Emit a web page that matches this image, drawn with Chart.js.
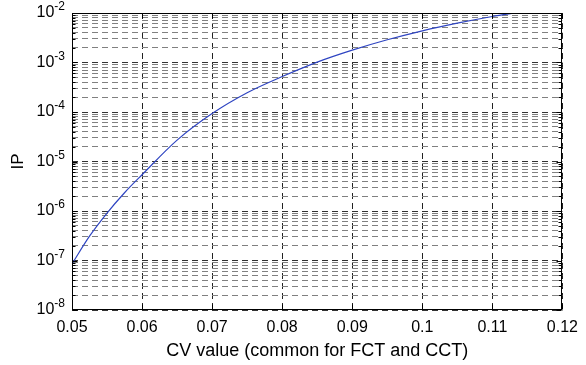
<!DOCTYPE html>
<html>
<head>
<meta charset="utf-8">
<script src="https://cdn.jsdelivr.net/npm/chart.js@4/dist/chart.umd.min.js"></script>
<style>
  html, body { margin: 0; padding: 0; background: #fff; }
  #wrap { width: 586px; height: 365px; position: relative; }
</style>
</head>
<body>
<div id="wrap"><canvas id="ipChart"></canvas></div>
<script>
// --- Data ---
const cvValues = [0.05, 0.0525, 0.055, 0.0575, 0.06, 0.065, 0.07, 0.075, 0.08, 0.085, 0.09, 0.095, 0.1, 0.105, 0.11, 0.1135];
const ipValues = [8.5e-8, 3.1e-7, 9.1e-7, 2.34e-6, 5.4e-6, 2.7e-5, 9.3e-5, 2.45e-4, 5.2e-4, 1.02e-3, 1.78e-3, 2.88e-3, 4.37e-3, 6.24e-3, 8.5e-3, 1.02e-2];

const xTicks = [0.05, 0.06, 0.07, 0.08, 0.09, 0.1, 0.11, 0.12];
const xTickLabels = ['0.05', '0.06', '0.07', '0.08', '0.09', '0.1', '0.11', '0.12'];
const yExponents = [-8, -7, -6, -5, -4, -3, -2];
const yExponentLabels = ['-8', '-7', '-6', '-5', '-4', '-3', '-2'];

const FONT = "'Liberation Sans', Arial, Helvetica, sans-serif";

// log grid: 1..9 x 10^k for every decade, plus the top decade
const yGrid = [];
for (let i = 0; i < yExponents.length - 1; i++) {
    for (let m = 1; m <= 9; m++) yGrid.push(m * Math.pow(10, yExponents[i]));
}
yGrid.push(Math.pow(10, yExponents[yExponents.length - 1]));

function isDecade(v) {
    const l = Math.log10(v);
    return Math.abs(l - Math.round(l)) < 1e-6;
}

// frame, inside tick marks and 10^x labels (MATLAB style)
const matlabAxes = {
    id: 'matlabAxes',
    afterDraw(chart) {
        const { ctx, chartArea: a, scales: { x, y } } = chart;
        const L = Math.round(a.left) + 0.5, R = Math.round(a.right) - 0.5;
        const T = Math.round(a.top) + 0.5, B = Math.round(a.bottom) - 0.5;
        ctx.save();
        ctx.strokeStyle = '#000';
        ctx.lineWidth = 1;
        ctx.setLineDash([]);
        ctx.beginPath();
        xTicks.forEach(v => {
            const px = Math.round(x.getPixelForValue(v)) + 0.5;
            ctx.moveTo(px, B); ctx.lineTo(px, B - 5);
            ctx.moveTo(px, T); ctx.lineTo(px, T + 5);
        });
        yGrid.forEach(v => {
            const py = Math.round(y.getPixelForValue(v)) + 0.5;
            const len = isDecade(v) ? 5 : 3;
            ctx.moveTo(L, py); ctx.lineTo(L + len, py);
            ctx.moveTo(R, py); ctx.lineTo(R - len, py);
        });
        ctx.stroke();
        ctx.strokeRect(L, T, R - L, B - T);

        ctx.fillStyle = '#000';
        ctx.textAlign = 'right';
        ctx.textBaseline = 'middle';
        const xr = a.left - 7;
        yExponents.forEach((e, i) => {
            const py = y.getPixelForValue(Math.pow(10, e));
            ctx.font = '12px ' + FONT;
            const w = ctx.measureText(yExponentLabels[i]).width;
            ctx.fillText(yExponentLabels[i], xr, py - 6);
            ctx.font = '16px ' + FONT;
            ctx.fillText('10', xr - w, py);
        });
        ctx.restore();
    }
};

const ctx = document.getElementById('ipChart').getContext('2d');

new Chart(ctx, {
    type: 'line',
    data: {
        datasets: [{
            data: cvValues.map((v, i) => ({ x: v, y: ipValues[i] })),
            borderColor: '#2f45c2',
            borderWidth: 1.2,
            pointRadius: 0,
            fill: false,
            cubicInterpolationMode: 'monotone'
        }]
    },
    options: {
        responsive: true,
        maintainAspectRatio: false,
        animation: false,
        layout: { padding: { top: 13, right: 23, left: 4, bottom: 2 } },
        plugins: {
            legend: { display: false },
            tooltip: { enabled: false }
        },
        scales: {
            x: {
                type: 'linear',
                min: 0.05,
                max: 0.12,
                afterBuildTicks: (scale) => {
                    scale.ticks = xTicks.map(v => ({ value: v }));
                },
                afterFit: (scale) => { scale.height = 53; },
                grid: {
                    color: '#222',
                    lineWidth: 1,
                    drawTicks: false
                },
                border: { display: false, dash: [6, 4] },
                ticks: {
                    padding: 8,
                    color: '#000',
                    font: { family: FONT, size: 16 },
                    maxRotation: 0,
                    callback: (v, i) => xTickLabels[i]
                },
                title: {
                    display: true,
                    text: 'CV value (common for FCT and CCT)',
                    color: '#000',
                    font: { family: FONT, size: 18 },
                    padding: { top: 2, bottom: 1 }
                }
            },
            y: {
                type: 'logarithmic',
                min: 1e-8,
                max: 1e-2,
                afterBuildTicks: (scale) => {
                    scale.ticks = yGrid.map(v => ({ value: v, major: isDecade(v) }));
                },
                afterFit: (scale) => { scale.width = 68; },
                grid: {
                    color: (c) => (c.tick && isDecade(c.tick.value)) ? '#333' : '#808080',
                    lineWidth: 1,
                    drawTicks: false
                },
                border: { display: false, dash: [6, 4] },
                ticks: { display: false },
                title: {
                    display: true,
                    text: 'IP',
                    color: '#000',
                    font: { family: FONT, size: 17 },
                    padding: { top: 4, bottom: 4 }
                }
            }
        }
    },
    plugins: [matlabAxes]
});
</script>
</body>
</html>
